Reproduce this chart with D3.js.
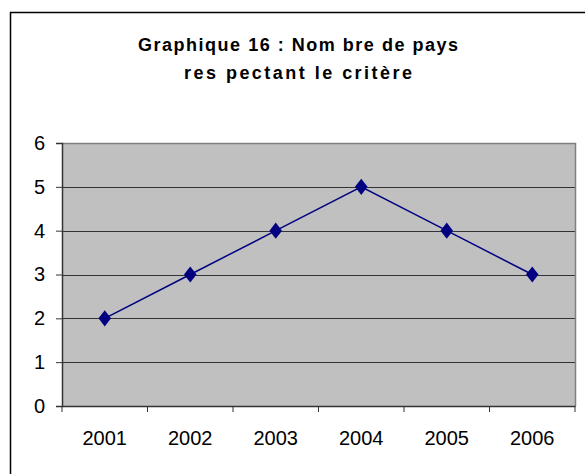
<!DOCTYPE html>
<html>
<head>
<meta charset="utf-8">
<script src="https://cdn.jsdelivr.net/npm/d3@7"></script>
<style>
  body { margin: 0; background: #fff; }
  svg { display: block; font-family: Arial, "Liberation Sans", sans-serif; }
</style>
</head>
<body>
<script>
var years = ["2001", "2002", "2003", "2004", "2005", "2006"];
var nbPays = [2, 3, 4, 5, 4, 3];
var yTicks = [0, 1, 2, 3, 4, 5, 6];
var titleLines = ["Graphique 16 : Nom bre de pays", "res pectant le critère"];

var width = 585, height = 474;
var plot = {left: 62, right: 575, top: 143, bottom: 406};

var svg = d3.select("body")
  .append("svg")
  .attr("width", width)
  .attr("height", height);

// cadre exterieur (coupe par le bord de l'image)
svg.append("rect")
  .attr("x", 10.5)
  .attr("y", 12.5)
  .attr("width", 600)
  .attr("height", 500)
  .attr("fill", "white")
  .attr("stroke", "#000")
  .attr("stroke-width", 1.5);

// titre : Excel espace les lettres, on force la largeur de chaque ligne
var titleWidths = [320, 228];
var title = svg.append("text")
  .attr("text-anchor", "middle")
  .attr("font-weight", "bold")
  .attr("font-size", 18)
  .attr("fill", "#000");
title.selectAll("tspan")
  .data(titleLines)
  .enter()
  .append("tspan")
  .attr("x", 298)
  .attr("y", function(d, i) { return 51 + i * 28 })
  .attr("textLength", function(d, i) { return titleWidths[i] })
  .attr("lengthAdjust", "spacing")
  .text(function(d) { return d });

var x = d3.scaleBand()
  .domain(years)
  .range([plot.left, plot.right]);

var y = d3.scaleLinear()
  .domain([0, 6])
  .range([plot.bottom, plot.top]);

// fond gris
svg.append("rect")
  .attr("x", plot.left)
  .attr("y", plot.top)
  .attr("width", plot.right - plot.left)
  .attr("height", plot.bottom - plot.top)
  .attr("fill", "#c0c0c0");

// quadrillage
svg.selectAll(".grid")
  .data(yTicks.filter(function(d) { return d > 0 && d < 6 }))
  .enter()
  .append("line")
  .attr("class", "grid")
  .attr("x1", plot.left)
  .attr("x2", plot.right)
  .attr("y1", function(d) { return Math.round(y(d)) + 0.5 })
  .attr("y2", function(d) { return Math.round(y(d)) + 0.5 })
  .attr("stroke", "#333")
  .attr("stroke-width", 1);

// bord haut et droit gris
svg.append("path")
  .attr("d", "M" + plot.left + "," + (plot.top + 0.5) + "H" + (plot.right + 0.5) + "V" + plot.bottom)
  .attr("fill", "none")
  .attr("stroke", "#808080")
  .attr("stroke-width", 1.5);

var yAxis = svg.append("g")
  .attr("transform", "translate(" + plot.left + ",0)")
  .call(d3.axisLeft(y).tickValues(yTicks).tickFormat(d3.format("d")).tickSize(6).tickPadding(11));

var xAxis = svg.append("g")
  .attr("transform", "translate(0," + plot.bottom + ")")
  .call(d3.axisBottom(x).tickSize(0));

xAxis.selectAll(".tick text")
  .attr("y", 39)
  .attr("dy", null);

// graduations x aux limites des categories
xAxis.selectAll(".sep")
  .data(years.concat(["fin"]))
  .enter()
  .append("line")
  .attr("class", "sep")
  .attr("x1", function(d, i) { return plot.left + i * x.step() })
  .attr("x2", function(d, i) { return plot.left + i * x.step() })
  .attr("y1", 0)
  .attr("y2", 6)
  .attr("stroke", "#333");

[yAxis, xAxis].forEach(function(g) {
  g.select(".domain").attr("stroke", "#333").attr("stroke-width", 1.5);
  g.selectAll(".tick line").attr("stroke", "#333");
  g.selectAll("text").attr("font-size", 20).attr("fill", "#000")
    .attr("font-family", "Arial, 'Liberation Sans', sans-serif");
});

var line = d3.line()
  .x(function(d, i) { return x(years[i]) + x.bandwidth() / 2 })
  .y(function(d) { return y(d) });

svg.append("path")
  .datum(nbPays)
  .attr("d", line)
  .attr("fill", "none")
  .attr("stroke", "#000080")
  .attr("stroke-width", 1.5);

svg.selectAll(".point")
  .data(nbPays)
  .enter()
  .append("path")
  .attr("class", "point")
  .attr("d", d3.symbol().type(d3.symbolDiamond).size(75))
  .attr("transform", function(d, i) {
    return "translate(" + (x(years[i]) + x.bandwidth() / 2) + "," + y(d) + ") scale(1.35,1)"
  })
  .attr("fill", "#000080");
</script>
</body>
</html>
